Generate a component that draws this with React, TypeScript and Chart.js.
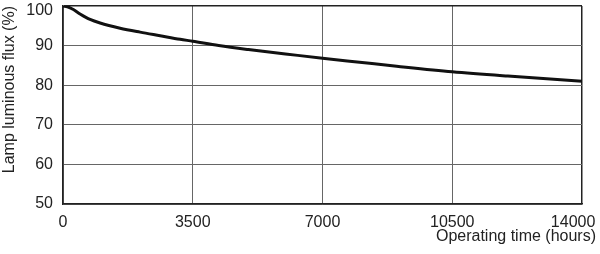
import React, { useEffect, useRef } from "react";
import { Chart, registerables } from "chart.js";

Chart.register(...registerables);

const hours = [0, 120, 280, 460, 730, 1000, 1540, 2080, 2620, 3160, 3500, 4200, 5000, 6000, 7000, 8000, 9000, 10500, 12000, 14000];
const flux = [100, 99.8, 99.1, 98.0, 96.6, 95.7, 94.4, 93.4, 92.5, 91.6, 91.1, 90.0, 89.0, 87.9, 86.8, 85.8, 84.8, 83.4, 82.3, 81.0];
const xTicks = [0, 3500, 7000, 10500, 14000];
const yTicks = [50, 60, 70, 80, 90, 100];
const xTitle = "Operating time (hours)";
const yTitle = "Lamp luminous flux (%)";

const FONT = "'Liberation Sans', Arial, sans-serif";

export default function App() {
  const ref = useRef<HTMLCanvasElement | null>(null);
  useEffect(() => {
    const canvas = ref.current;
    if (!canvas) return;
    const xTitlePlugin = {
      id: "xTitle",
      afterDraw(chart: any) {
        const ctx = chart.ctx;
        ctx.save();
        ctx.font = `16px ${FONT}`;
        ctx.fillStyle = "#222";
        ctx.textAlign = "right";
        ctx.textBaseline = "middle";
        ctx.fillText(xTitle, chart.width - 4, 237);
        ctx.restore();
      },
    };
    const yMax = yTicks[yTicks.length - 1];
    const chart = new Chart(canvas, {
      type: "line",
      data: {
        datasets: [
          {
            data: hours.map((h, i) => ({ x: h, y: flux[i] })),
            borderColor: "#111",
            borderWidth: 3,
            pointRadius: 0,
            cubicInterpolationMode: "monotone",
            fill: false,
          },
        ],
      },
      options: {
        animation: false,
        responsive: false,
        maintainAspectRatio: false,
        layout: { padding: { top: 6, right: 18, left: 0, bottom: 0 } },
        plugins: { legend: { display: false }, tooltip: { enabled: false } },
        scales: {
          x: {
            type: "linear",
            min: xTicks[0],
            max: xTicks[xTicks.length - 1],
            afterBuildTicks: (s: any) => {
              s.ticks = xTicks.map((v) => ({ value: v }));
            },
            afterFit: (s: any) => {
              s.height = 50;
              s.paddingLeft = 0;
              s.paddingRight = 0;
            },
            ticks: {
              padding: 9,
              color: "#222",
              font: { family: FONT, size: 16 },
              maxRotation: 0,
              autoSkip: false,
              callback: (v: any) => (v === 14000 ? "14000    " : String(v)),
            },
            grid: {
              drawTicks: false,
              color: (c: any) => (c.tick && (c.tick.value === 14000) ? "#222" : "#666"),
              lineWidth: (c: any) => (c.tick && (c.tick.value === 14000) ? 1.5 : 1),
            },
            border: { color: "#222", width: 1.5 },
          },
          y: {
            min: yTicks[0],
            max: yMax,
            afterBuildTicks: (s: any) => {
              s.ticks = yTicks.map((v) => ({ value: v }));
            },
            afterFit: (s: any) => {
              s.width = 63;
              s.paddingTop = 0;
              s.paddingBottom = 0;
            },
            ticks: {
              padding: 10,
              color: "#222",
              font: (c: any) =>
                c.tick && c.tick.value === yMax
                  ? { family: FONT, size: 16, lineHeight: "10px" }
                  : { family: FONT, size: 16 },
              callback: (v: any) => (v === yMax ? ["", String(v)] : String(v)),
            },
            grid: {
              drawTicks: false,
              color: (c: any) => (c.tick && c.tick.value === yMax ? "#222" : "#666"),
              lineWidth: (c: any) => (c.tick && c.tick.value === yMax ? 1.5 : 1),
            },
            border: { color: "#222", width: 1.5 },
            title: {
              display: true,
              text: yTitle,
              align: "end",
              color: "#222",
              font: { family: FONT, size: 16 },
              padding: 0,
            },
          },
        },
      },
      plugins: [xTitlePlugin],
    } as any);
    return () => chart.destroy();
  }, []);
  return (
    <div style={{ position: "fixed", left: 0, top: 0, width: 600, height: 254, background: "#fff" }}>
      <canvas ref={ref} width={600} height={254} style={{ width: 600, height: 254, display: "block" }} />
    </div>
  );
}
